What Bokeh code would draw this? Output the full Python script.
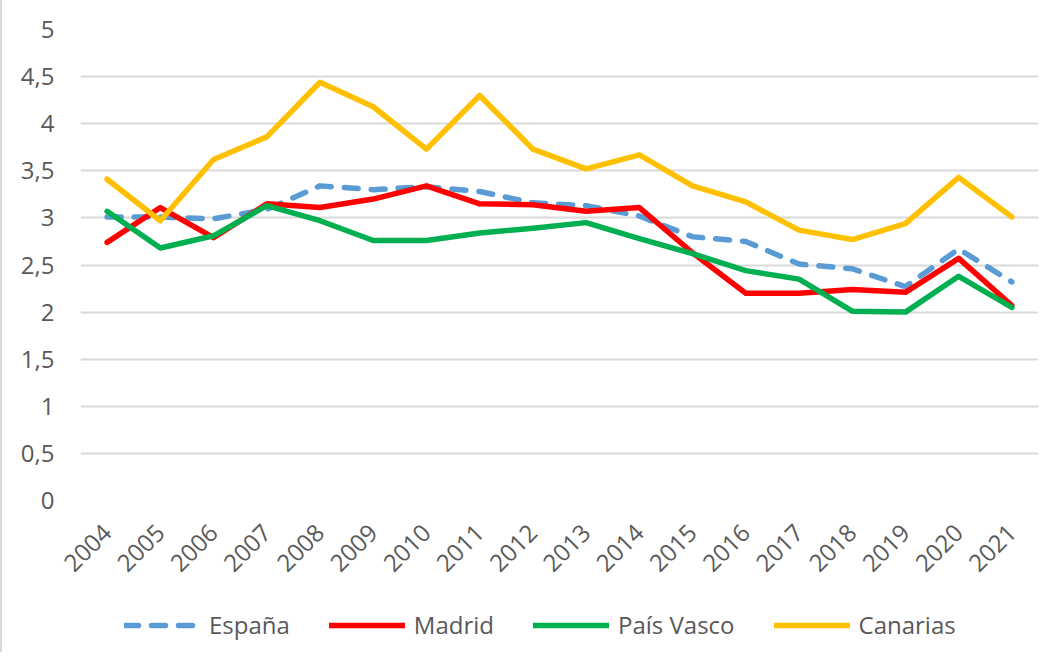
from math import pi
from bokeh.plotting import figure
from bokeh.layouts import column
from bokeh.models import FactorRange, Range1d, FixedTicker, Legend, LegendItem
from bokeh.embed import file_html
from bokeh.resources import INLINE

years = [str(y) for y in range(2004, 2022)]
espana = [3.01, 3.01, 2.99, 3.09, 3.34, 3.30, 3.33, 3.28, 3.16, 3.13, 3.02, 2.80, 2.75, 2.51, 2.46, 2.27, 2.67, 2.32]
madrid = [2.74, 3.11, 2.79, 3.15, 3.11, 3.20, 3.34, 3.15, 3.14, 3.07, 3.11, 2.63, 2.20, 2.20, 2.24, 2.21, 2.57, 2.07]
pais_vasco = [3.07, 2.68, 2.81, 3.13, 2.97, 2.76, 2.76, 2.84, 2.89, 2.95, 2.78, 2.62, 2.44, 2.35, 2.01, 2.00, 2.38, 2.05]
canarias = [3.41, 2.97, 3.62, 3.86, 4.44, 4.18, 3.73, 4.30, 3.73, 3.52, 3.67, 3.34, 3.17, 2.87, 2.77, 2.94, 3.43, 3.01]

y_ticks = [0, 0.5, 1, 1.5, 2, 2.5, 3, 3.5, 4, 4.5, 5]
y_tick_labels = ["0", "0,5", "1", "1,5", "2", "2,5", "3", "3,5", "4", "4,5", "5"]

series_names = ["España", "Madrid", "País Vasco", "Canarias"]
series_values = [espana, madrid, pais_vasco, canarias]
series_colors = ["#5b9bd5", "#ff0000", "#00b050", "#ffc000"]
series_dash = ["14 13", "solid", "solid", "solid"]

FONT = "Open Sans"
TEXT = "#595959"
LW = 5.5

# main chart
p = figure(
    width=1044, height=600,
    x_range=FactorRange(*years),
    y_range=Range1d(0, 5),
    output_backend="svg", toolbar_location=None,
    min_border_left=78, min_border_right=8, min_border_top=31, min_border_bottom=98,
)
p.outline_line_color = None
p.background_fill_color = "white"
p.border_fill_color = "white"

p.xgrid.grid_line_color = None
p.ygrid.grid_line_color = "#d9d9d9"
p.ygrid.grid_line_width = 2

p.yaxis.ticker = FixedTicker(ticks=y_ticks)
p.yaxis.major_label_overrides = {t: l for t, l in zip(y_ticks, y_tick_labels)}
for ax in (p.xaxis, p.yaxis):
    ax.axis_line_color = None
    ax.major_tick_line_color = None
    ax.minor_tick_line_color = None
    ax.major_tick_out = 0
    ax.major_tick_in = 0
    ax.major_label_text_font = FONT
    ax.major_label_text_font_size = "24px"
    ax.major_label_text_color = TEXT
p.yaxis.major_label_standoff = 26
p.xaxis.major_label_orientation = pi / 4
p.xaxis.major_label_standoff = 28

for name, vals, col, dash in zip(series_names, series_values, series_colors, series_dash):
    p.line(years, vals, line_color=col, line_width=LW, line_dash=dash,
           line_join="round", line_cap="round")

# legend strip below the chart (its frame is aligned with the chart's frame)
lf = figure(
    width=1044, height=54,
    x_range=Range1d(0, 1), y_range=Range1d(0, 1),
    x_axis_location=None, y_axis_location=None,
    output_backend="svg", toolbar_location=None,
    min_border_left=0, min_border_right=0, min_border_top=0, min_border_bottom=0,
)
lf.grid.grid_line_color = None
lf.outline_line_color = None
lf.background_fill_color = "white"
lf.border_fill_color = "white"

nan = float("nan")
items = []
for name, col, dash in zip(series_names, series_colors, series_dash):
    r = lf.line(x=[nan], y=[nan], line_color=col, line_width=LW, line_dash=dash,
                line_join="round", line_cap="round")
    items.append(LegendItem(label=name, renderers=[r]))

legend = Legend(items=items, orientation="horizontal", location=(44, 11),
                padding=0, margin=0, spacing=39, glyph_width=76, glyph_height=24,
                label_height=24, label_standoff=9,
                label_text_font=FONT, label_text_font_size="24px", label_text_color=TEXT,
                border_line_color=None, background_fill_alpha=0)
lf.add_layout(legend, "center")

layout = column(p, lf, spacing=0)
layout.styles = {"border-left": "2px solid #d9d9d9", "border-top": "2px solid #d9d9d9",
                 "margin-top": "-4px"}

open("out.html", "w").write(file_html(layout, INLINE))
